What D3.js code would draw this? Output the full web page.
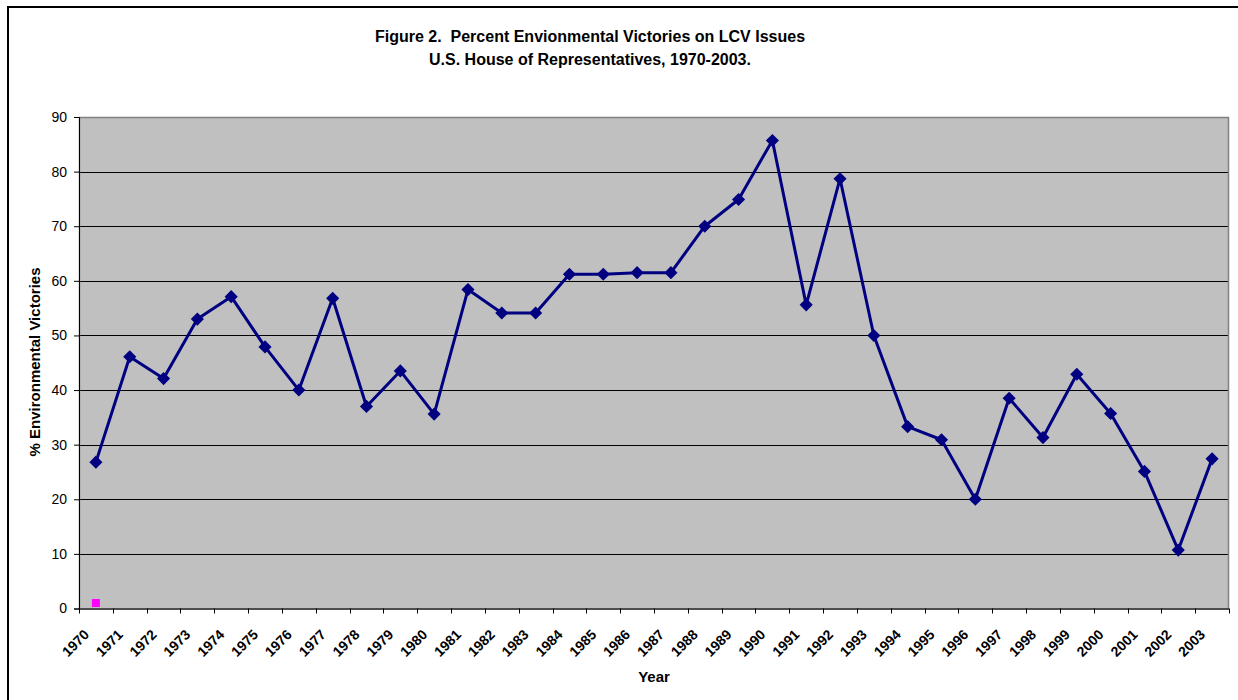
<!DOCTYPE html>
<html>
<head>
<meta charset="utf-8">
<script src="https://cdn.jsdelivr.net/npm/d3@7"></script>
<style>
  html, body { margin: 0; padding: 0; background: #fff; }
  svg { display: block; font-family: "Liberation Sans", Arial, sans-serif; }
  text { white-space: pre; }
</style>
</head>
<body>
<svg id="chart" width="1238" height="700"></svg>
<script>
const years = ["1970","1971","1972","1973","1974","1975","1976","1977","1978","1979",
  "1980","1981","1982","1983","1984","1985","1986","1987","1988","1989",
  "1990","1991","1992","1993","1994","1995","1996","1997","1998","1999",
  "2000","2001","2002","2003"];
const victories = [26.8,46.1,42.1,53.0,57.1,47.9,40.0,56.8,37.0,43.5,
  35.6,58.4,54.1,54.1,61.2,61.2,61.5,61.5,70.0,74.9,
  85.7,55.6,78.7,50.0,33.3,30.9,20.0,38.5,31.3,42.9,
  35.7,25.1,10.7,27.4];
const secondYears = ["1970"];
const secondValues = [1];
const yTicks = [0,10,20,30,40,50,60,70,80,90];
const titleLines = ["Figure 2.  Percent Envionmental Victories on LCV Issues",
  "U.S. House of Representatives, 1970-2003."];
const xTitle = "Year";
const yTitle = "% Environmental Victories";

const svg = d3.select("#chart");
const plot = { left: 79, right: 1229, top: 117, bottom: 608.5 };

// outer border
svg.append("rect").attr("x", 8).attr("y", 7).attr("width", 1240).attr("height", 700)
  .attr("fill", "none").attr("stroke", "#000").attr("stroke-width", 2);

const x = d3.scaleBand().domain(years).range([plot.left, plot.right]).padding(0);
const y = d3.scaleLinear().domain([0, 90]).range([plot.bottom, plot.top]);

// plot background
svg.append("rect").attr("x", plot.left).attr("y", plot.top)
  .attr("width", plot.right - plot.left).attr("height", plot.bottom - plot.top)
  .attr("fill", "#c0c0c0");

// gridlines
svg.append("g").selectAll("line").data(yTicks.filter(d => d > 0 && d < 90)).join("line")
  .attr("x1", plot.left).attr("x2", plot.right)
  .attr("y1", d => Math.round(y(d)) + 0.5).attr("y2", d => Math.round(y(d)) + 0.5)
  .attr("stroke", "#000").attr("stroke-width", 1);

// plot border (gray)
svg.append("rect").attr("x", plot.left + 0.5).attr("y", plot.top + 0.5)
  .attr("width", plot.right - plot.left - 1).attr("height", plot.bottom - plot.top)
  .attr("fill", "none").attr("stroke", "#808080").attr("stroke-width", 1.5);

// y axis
const yAxis = d3.axisLeft(y).tickValues(yTicks).tickSize(5).tickPadding(7);
const gy = svg.append("g").attr("transform", `translate(${plot.left},0)`).call(yAxis);
gy.select(".domain").attr("stroke", "#000");
gy.selectAll(".tick line").attr("stroke", "#000");
gy.selectAll(".tick text").attr("font-size", 14).attr("fill", "#000")
  .attr("font-family", "Liberation Sans, Arial, sans-serif");

// x axis: ticks at category boundaries
const boundaries = years.map(d => x(d)).concat([x(years[years.length - 1]) + x.bandwidth()]);
const gx = svg.append("g");
gx.append("line").attr("x1", plot.left).attr("x2", plot.right)
  .attr("y1", plot.bottom + 0.5).attr("y2", plot.bottom + 0.5).attr("stroke", "#000");
gx.selectAll("line.tk").data(boundaries).join("line").attr("class", "tk")
  .attr("x1", d => Math.round(d) + 0.5).attr("x2", d => Math.round(d) + 0.5)
  .attr("y1", plot.bottom).attr("y2", plot.bottom + 5).attr("stroke", "#000");
gx.selectAll("text").data(years).join("text")
  .attr("transform", d => `translate(${x(d) + x.bandwidth() / 2 - 6},${plot.bottom + 27}) rotate(-45)`)
  .attr("text-anchor", "end")
  .attr("font-size", 14).attr("font-weight", "bold").attr("fill", "#000")
  .text(d => d);

// line series
const line = d3.line().x((d, i) => x(years[i]) + x.bandwidth() / 2).y(d => y(d));
svg.append("path").datum(victories).attr("d", line)
  .attr("fill", "none").attr("stroke", "#000080").attr("stroke-width", 3)
  .attr("stroke-linejoin", "round");

const diamond = d3.symbol().type(d3.symbolDiamond2).size(110);
svg.append("g").selectAll("path").data(victories).join("path")
  .attr("transform", (d, i) => `translate(${x(years[i]) + x.bandwidth() / 2},${y(d)})`)
  .attr("d", diamond).attr("fill", "#000080");

// second series (single magenta square)
svg.append("g").selectAll("rect").data(secondValues).join("rect")
  .attr("x", (d, i) => x(secondYears[i]) + x.bandwidth() / 2 - 4)
  .attr("y", d => y(d) - 4)
  .attr("width", 8).attr("height", 8).attr("fill", "#ff00ff");

// titles
svg.append("g").selectAll("text").data(titleLines).join("text")
  .attr("x", 590).attr("y", (d, i) => 42 + i * 23)
  .attr("text-anchor", "middle").attr("font-size", 16).attr("font-weight", "bold")
  .attr("fill", "#000").text(d => d);

svg.append("text").attr("x", 654).attr("y", 682).attr("text-anchor", "middle")
  .attr("font-size", 15).attr("font-weight", "bold").text(xTitle);

svg.append("text").attr("transform", `translate(40,362) rotate(-90)`)
  .attr("text-anchor", "middle").attr("font-size", 15).attr("font-weight", "bold").text(yTitle);
</script>
</body>
</html>
